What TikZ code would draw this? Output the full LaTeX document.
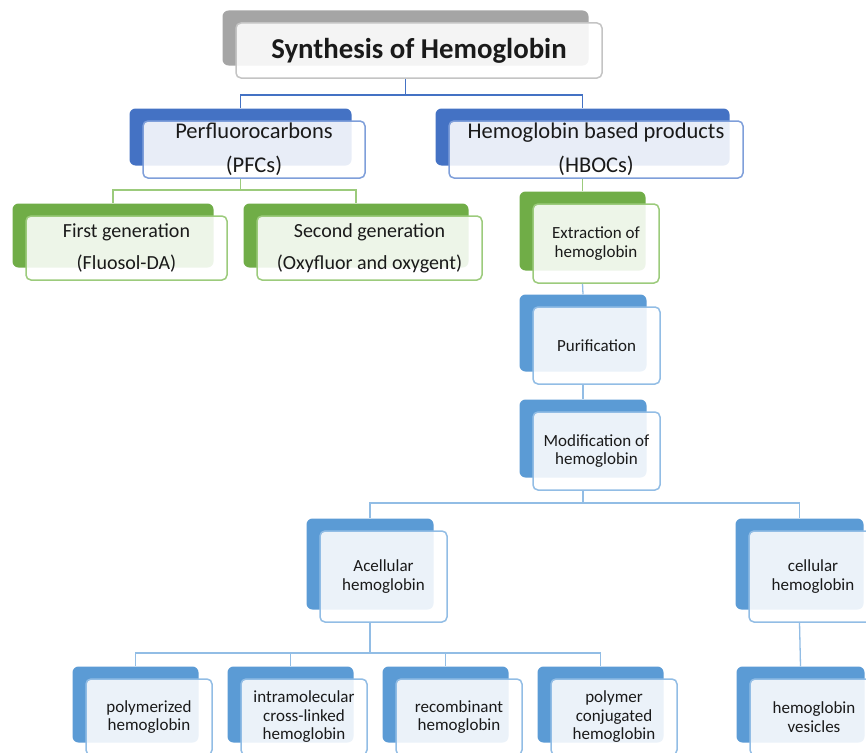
\documentclass[tikz,border=0pt]{standalone}
\usepackage{fontspec}
\setmainfont{Carlito}
\definecolor{grayB}{HTML}{A5A5A5}
\definecolor{grayF}{HTML}{C4C4C4}
\definecolor{dblueB}{HTML}{4472C4}
\definecolor{dblueF}{HTML}{7F9FDA}
\definecolor{greenB}{HTML}{70AD47}
\definecolor{greenF}{HTML}{9CCB7C}
\definecolor{lblueB}{HTML}{5B9BD5}
\definecolor{lblueF}{HTML}{92BDE5}
\definecolor{txt}{HTML}{1A1A1A}
\newcommand\mkbox[8]{%
  \node[backbox=#2, minimum width={(#5-#3)*1pt}, minimum height={(#6-#4)*1pt}]
    (#1-b) at ({(#3+#5)/2-13.5},{(#4+#6)/2-12.5}) {};
  \node[frontbox=#2, minimum width={(#5-#3)*1pt}, minimum height={(#6-#4)*1pt}, font=#7]
    (#1) at ({(#3+#5)/2},{(#4+#6)/2}) {#8};
}
\tikzset{
  backbox/.style={draw=none, fill=#1B, rounded corners=6pt, inner sep=0pt},
  frontbox/.style={draw=#1F, line width=1.5pt, fill=white, fill opacity=0.88,
    text opacity=1, text=txt, rounded corners=5pt, inner sep=0pt, align=center},
  conn/.style={draw=#1, line width=1.3pt},
  ftitle/.style={},
}
\begin{document}
\begin{tikzpicture}[x=1pt,y=-1pt]
\useasboundingbox (0,0) rectangle (866,752);
\clip (0,0) rectangle (866,752);
\fill[white] (0,0) rectangle (866,752);
% title
\mkbox{title}{gray}{236}{23}{602}{78}{\fontsize{28.8}{32}\selectfont\bfseries}{Synthesis of Hemoglobin}
% level 2
\mkbox{pfc}{dblue}{143}{121}{365}{178}{\fontsize{22.5}{34}\selectfont}{Perfluorocarbons\\(PFCs)}
\mkbox{hboc}{dblue}{449}{121}{743}{178}{\fontsize{22.5}{34}\selectfont}{Hemoglobin based products\\(HBOCs)}
% level 3 green
\mkbox{first}{green}{26}{216}{227}{280}{\fontsize{20}{32}\selectfont}{First generation\\(Fluosol-DA)}
\mkbox{second}{green}{257}{216}{482}{280}{\fontsize{20}{32}\selectfont}{Second generation\\(Oxyfluor and oxygent)}
\mkbox{extr}{green}{533}{204}{659}{283}{\fontsize{17}{18.5}\selectfont}{Extraction of\\hemoglobin}
% chain
\mkbox{pur}{lblue}{533}{307}{660}{384}{\fontsize{17}{18.5}\selectfont}{Purification}
\mkbox{mod}{lblue}{533}{412}{660}{490}{\fontsize{17}{18.5}\selectfont}{Modification of\\hemoglobin}
\mkbox{acell}{lblue}{320}{531}{447}{622}{\fontsize{17}{18.5}\selectfont}{Acellular\\hemoglobin}
\mkbox{cell}{lblue}{749}{531}{877}{622}{\fontsize{17}{18.5}\selectfont}{cellular\\hemoglobin}
% bottom row
\mkbox{poly}{lblue}{86}{679}{212}{755}{\fontsize{17}{18.5}\selectfont}{polymerized\\hemoglobin}
\mkbox{intra}{lblue}{241}{679}{367}{755}{\fontsize{17}{18.5}\selectfont}{intramolecular\\cross-linked\\hemoglobin}
\mkbox{recomb}{lblue}{396}{679}{522}{755}{\fontsize{17}{18.5}\selectfont}{recombinant\\hemoglobin}
\mkbox{pconj}{lblue}{551}{679}{677}{755}{\fontsize{17}{18.5}\selectfont}{polymer\\conjugated\\hemoglobin}
\mkbox{vesic}{lblue}{750}{679}{878}{755}{\fontsize{17}{18.5}\selectfont}{hemoglobin\\vesicles}
% bus coordinates
\coordinate (bus1) at (0,95);
\coordinate (bus2) at (0,190);
\coordinate (bus3) at (0,503);
\coordinate (bus4) at (0,653);
% connectors
\draw[conn=dblueB] (title-b.center |- title.south) -- (title-b.center |- bus1) -| (pfc-b.north);
\draw[conn=dblueB] (title-b.center |- bus1) -| (hboc-b.north);
\draw[conn=greenF] (pfc-b.center |- pfc.south) -- (pfc-b.center |- bus2) -| (first-b.north);
\draw[conn=greenF] (pfc-b.center |- bus2) -| (second-b.north);
\draw[conn=greenF] (hboc-b.center |- hboc.south) -- (extr-b.north);
\draw[conn=lblueF] (extr-b.center |- extr.south) -- (pur-b.north);
\draw[conn=lblueF] (pur-b.center |- pur.south) -- (mod-b.north);
\draw[conn=lblueF] (mod-b.center |- mod.south) -- (mod-b.center |- bus3) -| (acell-b.north);
\draw[conn=lblueF] (mod-b.center |- bus3) -| (cell-b.north);
\draw[conn=lblueF] (acell-b.center |- acell.south) -- (acell-b.center |- bus4) -| (poly-b.north);
\draw[conn=lblueF] (acell-b.center |- bus4) -| (intra-b.north);
\draw[conn=lblueF] (acell-b.center |- bus4) -| (recomb-b.north);
\draw[conn=lblueF] (acell-b.center |- bus4) -| (pconj-b.north);
\draw[conn=lblueF] (cell-b.center |- cell.south) -- (vesic-b.north);
\end{tikzpicture}
\end{document}
